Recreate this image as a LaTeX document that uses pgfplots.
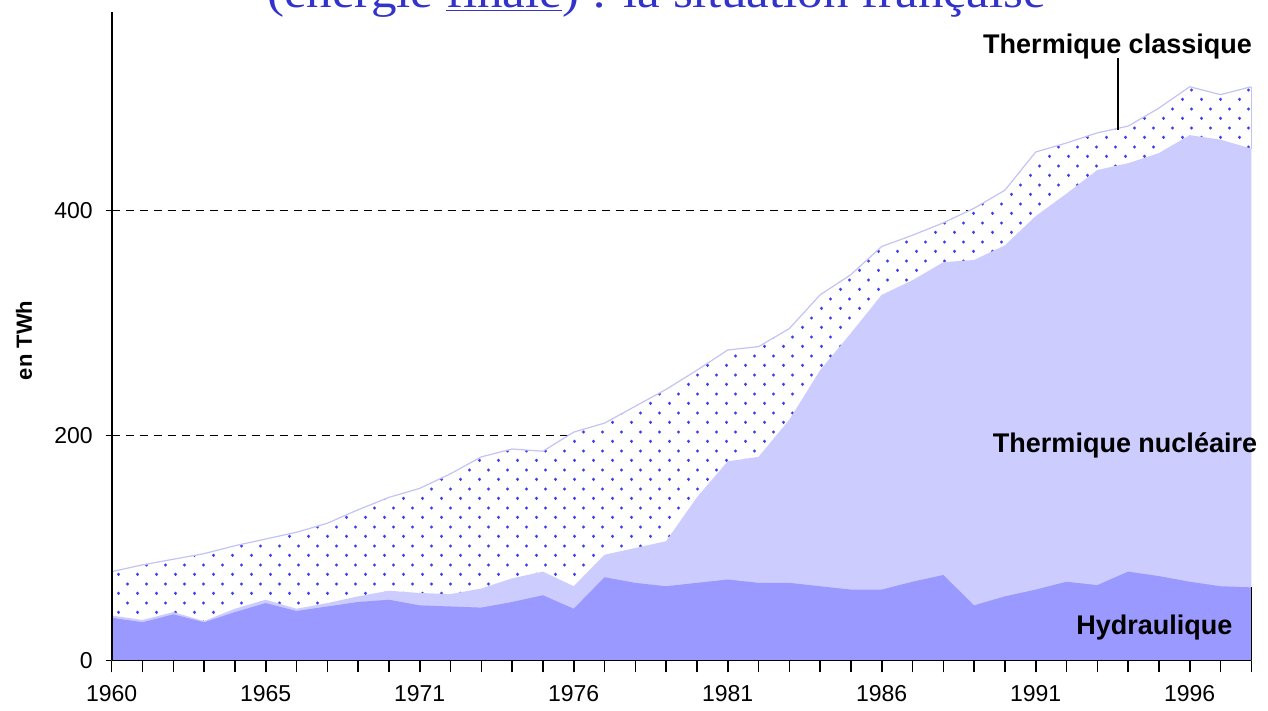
\documentclass[border=0pt]{standalone}
\usepackage{graphicx}
\usepackage{pgfplots}
\pgfplotsset{compat=1.18}
\usepackage{pgfplotstable}
\usetikzlibrary{patterns}
\usepackage{fontspec}
\setmainfont{Liberation Sans}
\newfontfamily\titlefont{Liberation Serif}

\definecolor{hydro}{RGB}{153,153,255}
\definecolor{nucl}{RGB}{204,204,255}
\definecolor{dotblue}{RGB}{60,60,240}
\definecolor{topline}{RGB}{195,195,245}
\definecolor{titleblue}{RGB}{51,51,204}

% staggered dot grid, as in the Excel fill
\pgfdeclarepatternformonly{xldots}{\pgfqpoint{0pt}{0pt}}{\pgfqpoint{9.5pt}{9.4pt}}{\pgfqpoint{9.5pt}{9.4pt}}{
  \pgfpathcircle{\pgfqpoint{2.375pt}{2.35pt}}{0.85pt}
  \pgfpathcircle{\pgfqpoint{7.125pt}{7.05pt}}{0.85pt}
  \pgfusepath{fill}
}

% cumulated production in TWh: total, hydro+nuclear, hydro
% x = position on the category axis (0 = 1960)
\pgfplotstableread{
x  total  hn   hydro
0  79   40   38
1  85   36   34
2  90   43   41
3  95   35   34
4  102  46   43
5  108  54   51
6  114  46   44
7  122  51   48
8  134  57   52
9  145  62   54
10 153  60   49
11 166  59   48
12 181  64   47
13 188  73   52
14 186  79   58
15 203  66   46
16 211  94   74
17 226  100  69
18 241  106  66
19 258  145  69
20 276  177  72
21 279  181  69
22 295  214  69
23 325  258  66
24 343  291  63
25 368  325  63
26 378  338  70
27 389  354  76
28 402  356  49
29 418  369  57
30 452  395  63
31 460  415  70
32 469  436  67
33 475  442  79
34 491  451  75
35 510  467  70
36 503  463  66
37 510  455  65
}\prod

\begin{document}
\begin{tikzpicture}
\begin{axis}[
    scale only axis,
    width=569.8pt, height=324pt,
    at={(0,0)}, anchor=south west,
    xmin=0, xmax=37, ymin=0, ymax=576,
    enlargelimits=false,
    clip=false,
    axis lines=left,
    axis line style={-, line width=0.9pt},
    xtick={0,5,...,35},
    xticklabels={1960,1965,1971,1976,1981,1986,1991,1996},
    minor xtick={0,...,37},
    ytick={0,200,400},
    tick align=outside,
    major tick length=6pt, minor tick length=6pt,
    tick style={black, line width=0.8pt},
    y tick style={xshift=3pt},
    ymajorgrids,
    grid style={black, dash pattern=on 4pt off 3pt, line width=0.75pt},
    tick label style={font=\fontsize{11.5}{13}\selectfont},
    xticklabel style={yshift=-3pt},
    /pgf/number format/assume math mode=true,
]
% thermique classique (white with dots)
\addplot[draw=none, fill=white, postaction={pattern=xldots, pattern color=dotblue}]
    table[x=x, y=total] {\prod} \closedcycle;
% thermique nucleaire
\addplot[draw=none, fill=nucl] table[x=x, y=hn] {\prod} \closedcycle;
% hydraulique
\addplot[draw=none, fill=hydro] table[x=x, y=hydro] {\prod} \closedcycle;
% top border of the total
\addplot[topline, line width=0.6pt] table[x=x, y=total] {\prod};
\addplot[topline, line width=0.6pt] coordinates {(37,455) (37,510)};
\addplot[black, line width=0.8pt] coordinates {(37,0) (37,65)};

% axis lines again, above the areas
\draw[line width=0.9pt] (axis cs:0,0) -- (axis cs:37,0);
\draw[line width=0.9pt] (axis cs:0,0) -- (axis cs:0,576);

\node[anchor=east, font=\bfseries\fontsize{13.5}{15}\selectfont, inner sep=0pt]
    at (axis cs:37.03,546) {Thermique classique};
\draw[line width=0.8pt] (axis cs:32.67,471.6) -- (axis cs:32.67,535.6);
\node[anchor=east, font=\bfseries\fontsize{13.5}{15}\selectfont, inner sep=0pt]
    at (axis cs:37.2,191.5) {Thermique nucléaire};
\node[anchor=east, font=\bfseries\fontsize{13.5}{15}\selectfont, inner sep=0pt]
    at (axis cs:36.4,29) {Hydraulique};
\end{axis}

\node[rotate=90, font=\bfseries\fontsize{11}{13}\selectfont]
    at (-43.85pt,160pt) {en TWh};

\node[anchor=base, text=titleblue, inner sep=0pt] at (272.4pt,326.6pt)
    {\scalebox{1.11}[1]{\titlefont\fontsize{23}{27}\selectfont (énergie \underline{finale}) : la situation française}};

\pgfresetboundingbox
\path[use as bounding box] (-55.85pt,-25.25pt) rectangle (578.15pt,330.25pt);
\end{tikzpicture}
\end{document}
